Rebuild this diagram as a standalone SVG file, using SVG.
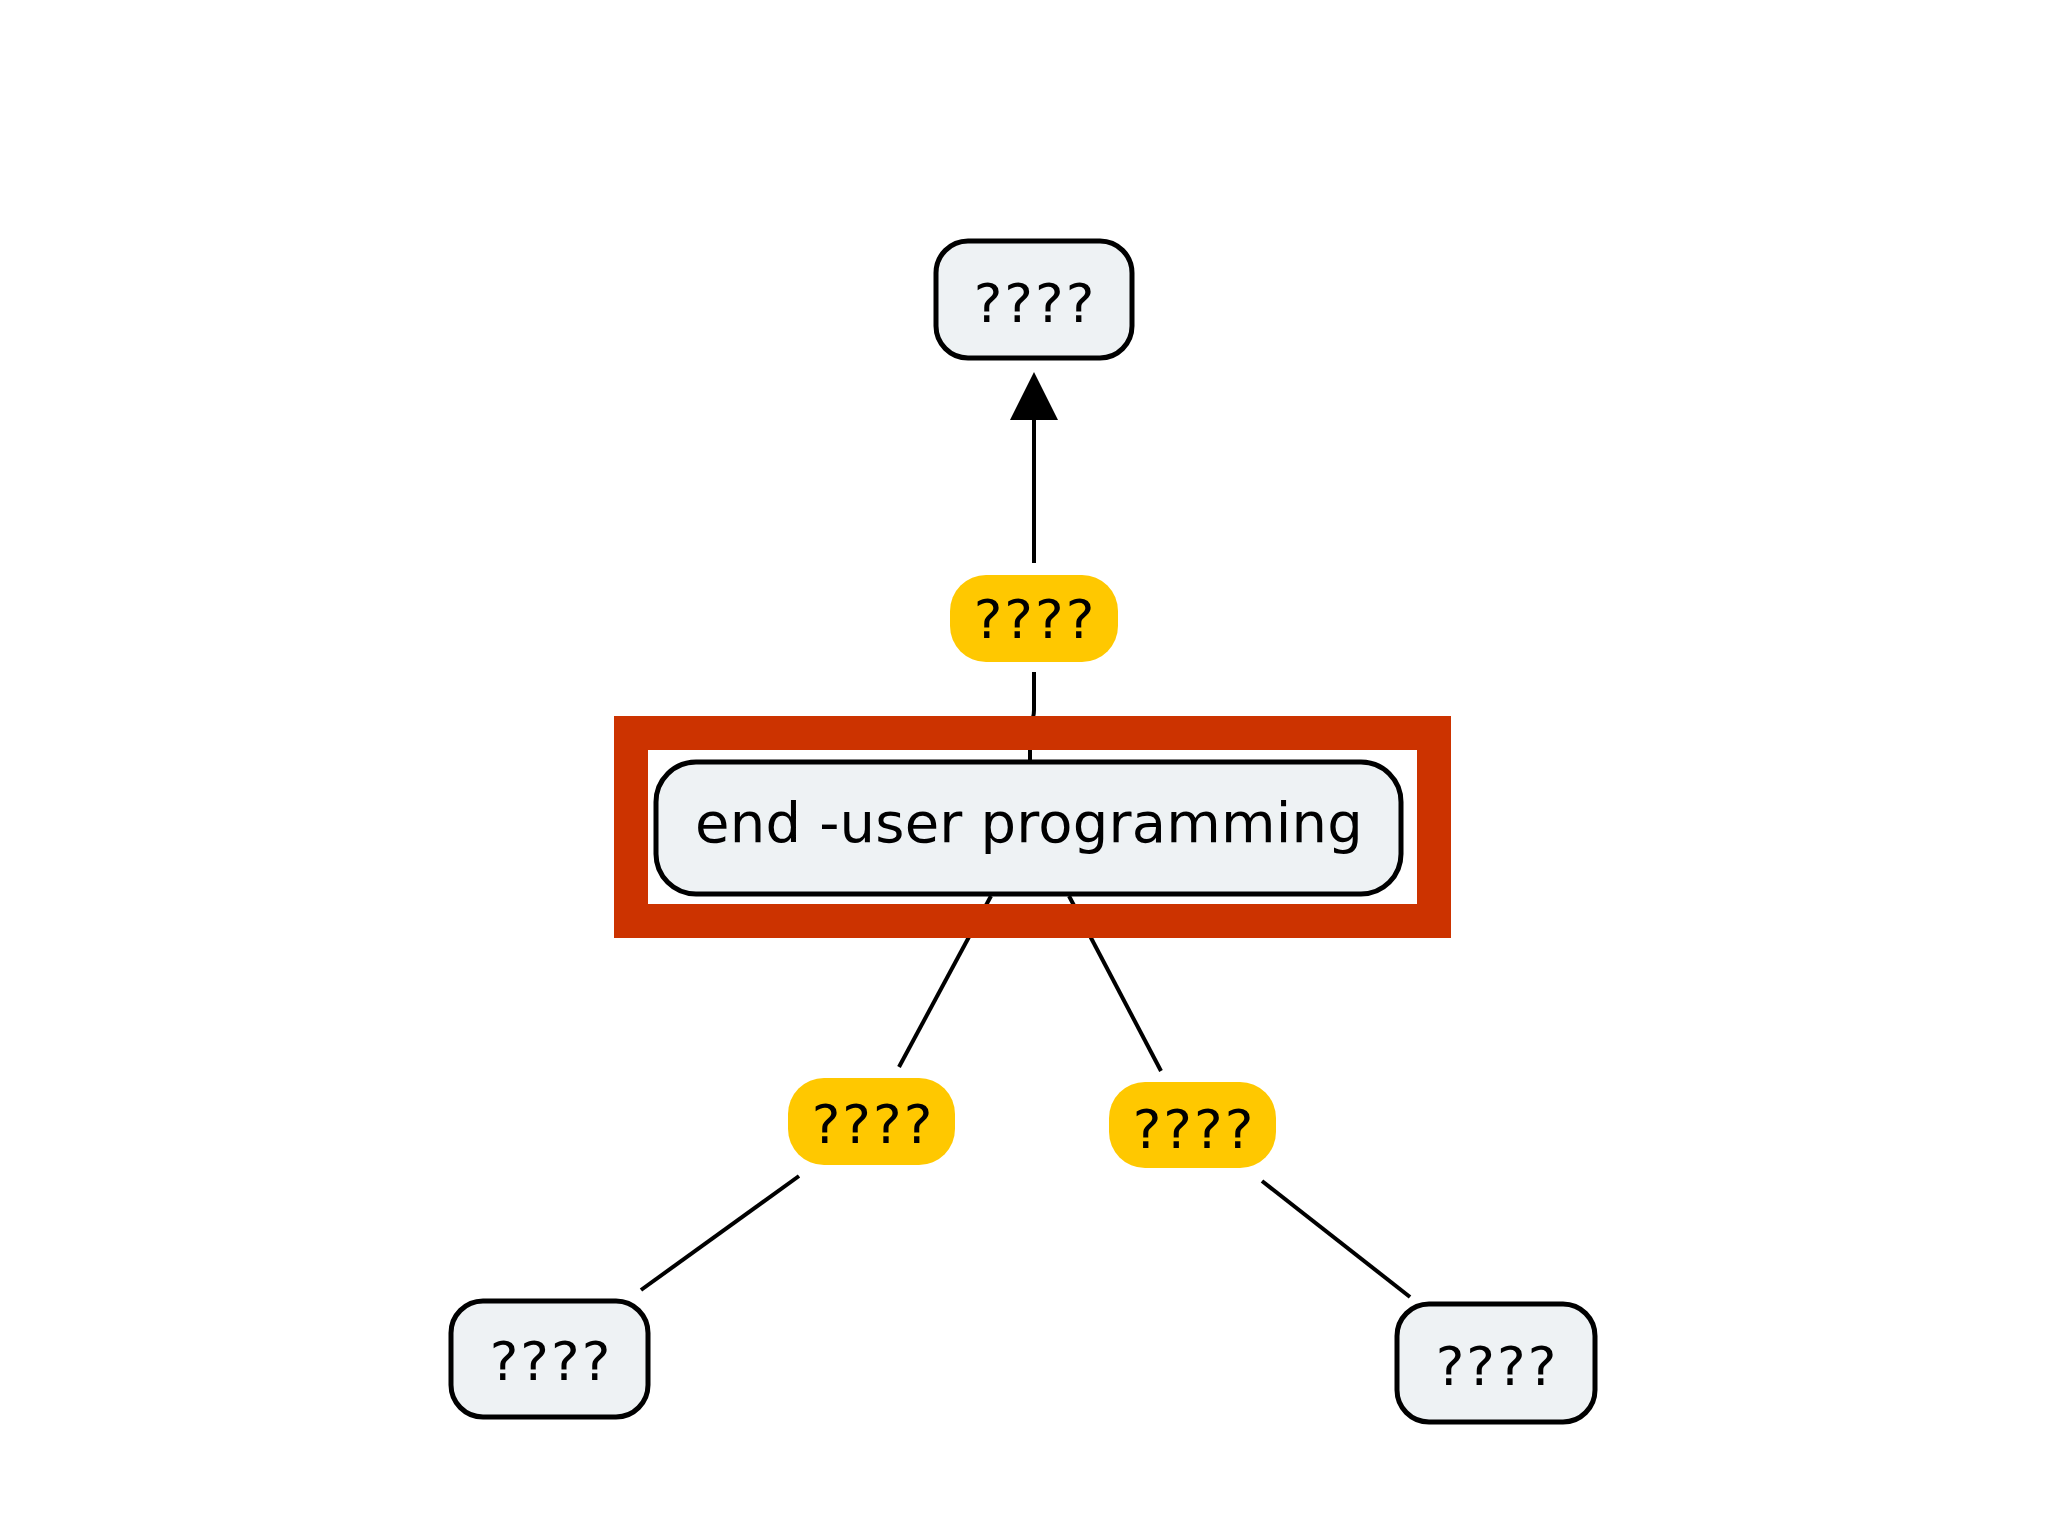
<svg xmlns="http://www.w3.org/2000/svg" width="2048" height="1536" viewBox="0 0 2048 1536">
<defs>
<style>
.concept{fill:#eef2f4;stroke:#000;stroke-width:5}
.link{fill:#ffc800;stroke:none}
.txt{font-family:"DejaVu Sans","Liberation Sans",sans-serif;font-size:54px;fill:#000;text-anchor:middle;letter-spacing:2px}
.main{font-size:56px;letter-spacing:0.2px}
.conn{fill:none;stroke:#000;stroke-width:4}
</style>
<marker id="arrow" viewBox="0 0 48 48" refX="0" refY="24" markerWidth="48" markerHeight="48" markerUnits="userSpaceOnUse" orient="auto">
<path d="M0,0 L48,24 L0,48 Z" fill="#000"/>
</marker>
</defs>
<rect width="2048" height="1536" fill="#fff"/>
<g id="connectors">
<path class="conn" d="M1034,563 V420" marker-end="url(#arrow)" stroke-width="5"/>
<path class="conn" d="M1034,672 V710 Q1034,718 1030,724 V762"/>
<path class="conn" d="M991,896 L899,1067"/>
<path class="conn" d="M799,1176 L641,1290"/>
<path class="conn" d="M1069,896 L1161,1071"/>
<path class="conn" d="M1262,1181 L1410,1297"/>
</g>
<g id="node-top">
<rect class="concept" x="936" y="241" width="196" height="117" rx="32"/>
<text class="txt" x="1035" y="322">????</text>
</g>
<g id="label-top">
<rect class="link" x="950" y="575" width="168" height="87" rx="36"/>
<text class="txt" x="1035" y="638">????</text>
</g>
<g id="node-main">
<rect class="concept" x="656" y="762" width="745" height="132" rx="40"/>
<text class="txt main" x="1029" y="842">end -user programming</text>
</g>
<g id="label-left">
<rect class="link" x="788" y="1078" width="167" height="87" rx="36"/>
<text class="txt" x="873" y="1143">????</text>
</g>
<g id="label-right">
<rect class="link" x="1109" y="1082" width="167" height="86" rx="36"/>
<text class="txt" x="1194" y="1148">????</text>
</g>
<g id="node-bottom-left">
<rect class="concept" x="451" y="1301" width="197" height="116" rx="32"/>
<text class="txt" x="551" y="1380">????</text>
</g>
<g id="node-bottom-right">
<rect class="concept" x="1397" y="1304" width="198" height="118" rx="32"/>
<text class="txt" x="1497" y="1385">????</text>
</g>
<rect id="highlight" x="631" y="733" width="803" height="188" fill="none" stroke="#cc3300" stroke-width="34"/>
</svg>
